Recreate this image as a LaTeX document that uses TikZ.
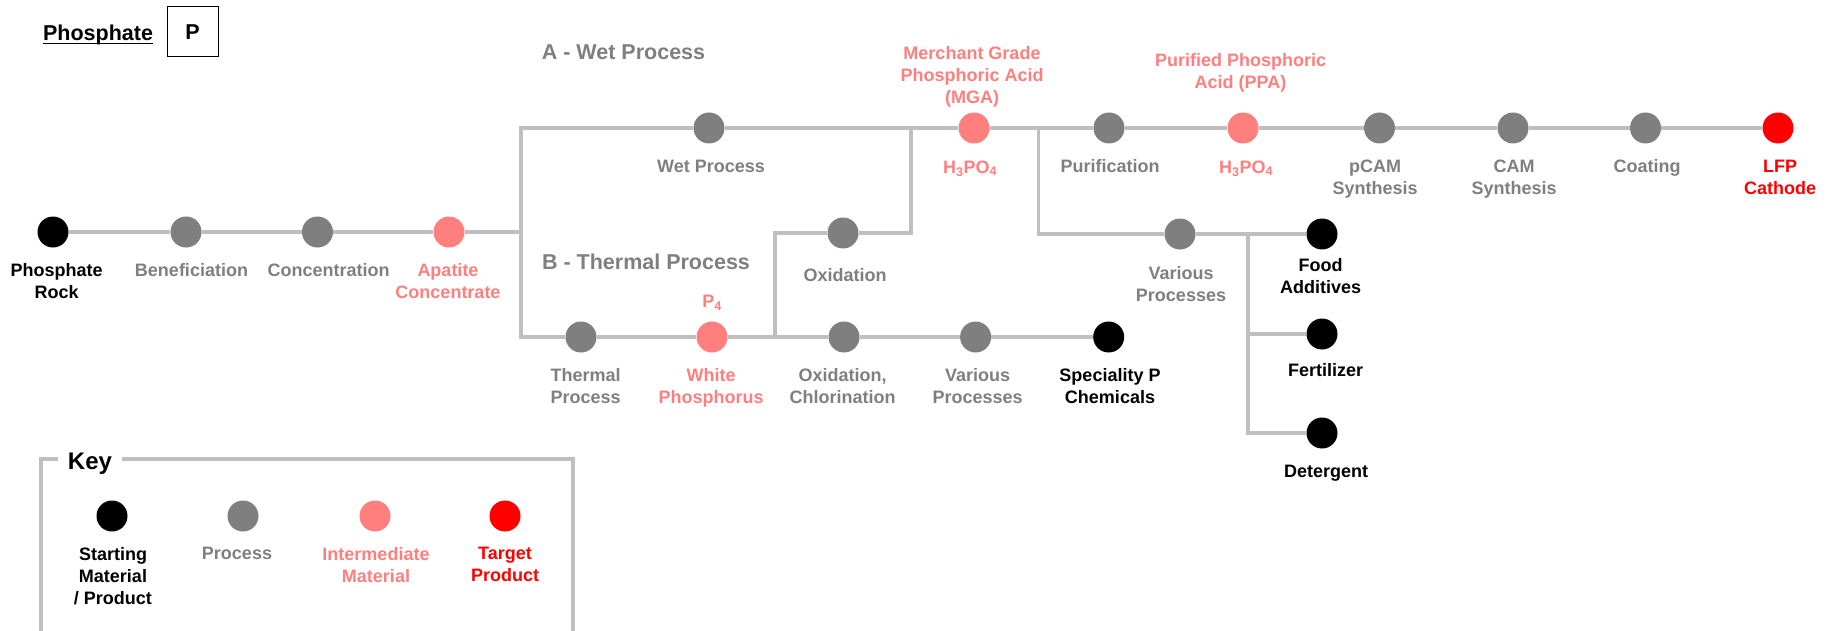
\documentclass[tikz,border=0pt]{standalone}
\usepackage{fontspec}
\setmainfont{Liberation Sans}
\usetikzlibrary{positioning}
\definecolor{procgray}{HTML}{7F7F7F}
\definecolor{interred}{HTML}{FF7F7F}
\definecolor{linegray}{HTML}{BFBFBF}
\begin{document}
\begin{tikzpicture}[x=1pt,y=-1pt,
    dot/.style={circle,minimum size=31pt,inner sep=0pt},
    start/.style={dot,fill=black},
    proc/.style={dot,fill=procgray},
    inter/.style={dot,fill=interred},
    target/.style={dot,fill=red},
    lbl/.style={font=\bfseries\fontsize{18}{22}\selectfont,align=center,inner sep=0pt,anchor=north},
    head/.style={font=\bfseries\fontsize{21.5}{26}\selectfont,inner sep=0pt},
    link/.style={draw=linegray,line width=3.6pt}]
      \useasboundingbox (0,0) rectangle (1838,631);
      % title
      \node[head,anchor=north] (title) at (98,25) {Phosphate};
      \draw[line width=1.5pt] ([yshift=-2.6pt]title.base west) -- ([yshift=-2.6pt]title.base east);
      \node[head,draw,line width=1pt,minimum width=51pt,minimum height=50pt] (pbox) at (192.5,32) {P};
      \node[head,anchor=north,text=procgray] (headA) at (623.5,45) {A - Wet Process};
      \node[head,anchor=north,text=procgray] (headB) at (646,254) {B - Thermal Process};
      % main row
      \draw
        (53,232) node[start] (rock){}
        (186,232) node[proc] (ben){}
        (317.5,232) node[proc] (conc){}
        (449,232) node[inter] (apat){};
      % wet process
      \draw
        (709,128) node[proc] (wetp){}
        (974,128) node[inter] (mga){}
        (1109,128) node[proc] (pur){}
        (1243,128) node[inter] (ppa){}
        (1379.5,128) node[proc] (pcam){}
        (1513,128) node[proc] (cam){}
        (1645.5,128) node[proc] (coat){}
        (1778,128) node[target] (lfp){}
        (843,233) node[proc] (ox){}
        (1180,234) node[proc] (var1){}
        (1322,234) node[start] (food){}
        (1322,334) node[start] (fert){}
        (1322,433) node[start] (deter){};
      % thermal process
      \draw
        (581,337) node[proc] (thp){}
        (712,337) node[inter] (wp){}
        (844,337) node[proc] (oxcl){}
        (975.6,337) node[proc] (var2){}
        (1108.7,337) node[start] (spec){};
      \coordinate (jA) at (521,232);
      \coordinate (jW) at (521,128);
      \coordinate (jT) at (521,337);
      \coordinate (jO1) at (775,337);
      \coordinate (jO2) at (911,128);
      \coordinate (jM) at (1038.5,128);
      \coordinate (jF1) at (1248,234);
      \coordinate (jF2) at (1248,334);
      \begin{scope}[link]
        \draw (rock) to (ben);
        \draw (ben) to (conc);
        \draw (conc) to (apat);
        \draw (apat) to (jA);
        \draw (wetp) -- (jW) -- (jT) -- (thp);
        \draw (wetp) to (mga);
        \draw (mga) to (pur);
        \draw (pur) to (ppa);
        \draw (ppa) to (pcam);
        \draw (pcam) to (cam);
        \draw (cam) to (coat);
        \draw (coat) to (lfp);
        \draw (thp) to (wp);
        \draw (wp) to (oxcl);
        \draw (oxcl) to (var2);
        \draw (var2) to (spec);
        \draw (jO1) |- (ox);
        \draw (ox) -| (jO2);
        \draw (jM) |- (var1);
        \draw (var1) to (food);
        \draw (jF1) |- (deter);
        \draw (jF2) to (fert);
      \end{scope}
      % labels
      \node[lbl] (t-rock) at (56.7,263.5) {Phosphate\\Rock};
      \node[lbl,text=procgray] (t-ben) at (191.5,263.5) {Beneficiation};
      \node[lbl,text=procgray] (t-conc) at (328.6,263.5) {Concentration};
      \node[lbl,text=interred] (t-apat) at (448,263.5) {Apatite\\Concentrate};
      \node[lbl,text=procgray] (t-wetp) at (711,159.5) {Wet Process};
      \node[lbl,text=interred] (t-mga-top) at (972,46.4) {Merchant Grade\\Phosphoric Acid\\(MGA)};
      \node[lbl,text=interred] (t-mga) at (970,160.4) {H\textsubscript{3}PO\textsubscript{4}};
      \node[lbl,text=procgray] (t-pur) at (1110,159.5) {Purification};
      \node[lbl,text=interred] (t-ppa-top) at (1240.5,53.4) {Purified Phosphoric\\Acid (PPA)};
      \node[lbl,text=interred] (t-ppa) at (1246,160.4) {H\textsubscript{3}PO\textsubscript{4}};
      \node[lbl,text=procgray] (t-pcam) at (1375,159.5) {pCAM\\Synthesis};
      \node[lbl,text=procgray] (t-cam) at (1514,159.5) {CAM\\Synthesis};
      \node[lbl,text=procgray] (t-coat) at (1647,159.5) {Coating};
      \node[lbl,text=red] (t-lfp) at (1780,159.5) {LFP\\Cathode};
      \node[lbl,text=procgray] (t-ox) at (845,268.4) {Oxidation};
      \node[lbl,text=procgray] (t-var1) at (1181,266.4) {Various\\Processes};
      \node[lbl] (t-food) at (1320.5,258.4) {Food\\Additives};
      \node[lbl] (t-fert) at (1325.7,363.4) {Fertilizer};
      \node[lbl] (t-deter) at (1326,465.4) {Detergent};
      \node[lbl,text=interred] (t-p4) at (712,295.4) {P\textsubscript{4}};
      \node[lbl,text=procgray] (t-thp) at (585.7,368.4) {Thermal\\Process};
      \node[lbl,text=interred] (t-wp) at (711,368.4) {White\\Phosphorus};
      \node[lbl,text=procgray] (t-oxcl) at (842.6,368.4) {Oxidation,\\Chlorination};
      \node[lbl,text=procgray] (t-var2) at (977.6,368.4) {Various\\Processes};
      \node[lbl] (t-spec) at (1110,368.4) {Speciality P\\Chemicals};
      % key
      \draw[draw=linegray,line width=3.5pt] (41,633) -- (41,459) -- (573,459) -- (573,633);
      \node[font=\bfseries\fontsize{24}{28}\selectfont,fill=white,inner xsep=10pt,inner ysep=0pt,anchor=base] (key) at (90,469.6) {Key};
      \draw
        (112,516) node[start] (k1){}
        (243,516) node[proc] (k2){}
        (375,516) node[inter] (k3){}
        (505,516) node[target] (k4){};
      \node[lbl] (t-k1) at (113,547.4) {Starting\\Material\\/ Product};
      \node[lbl,text=procgray] (t-k2) at (237,547.4) {Process};
      \node[lbl,text=interred] (t-k3) at (376,547.4) {Intermediate\\Material};
      \node[lbl,text=red] (t-k4) at (505,547.4) {Target\\Product};
    \end{tikzpicture}
\end{document}
